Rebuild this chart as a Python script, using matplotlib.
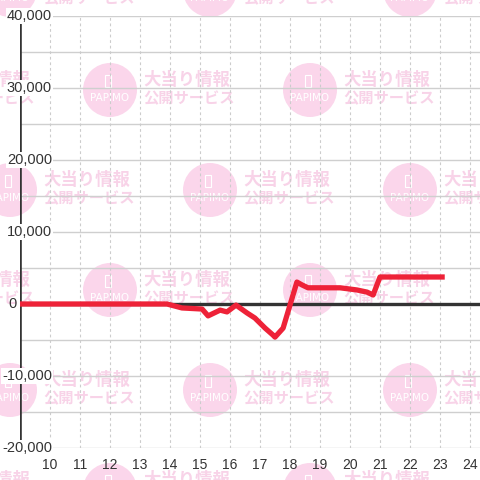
import matplotlib
matplotlib.use("Agg")
import matplotlib.pyplot as plt
from matplotlib.patches import Circle, Rectangle

# hour of day vs. cumulative balance
hours = [9.0, 13.9, 14.4, 15.07, 15.27, 15.67, 15.9, 16.2, 16.57, 16.83, 17.17,
         17.43, 17.5, 17.77, 18.23, 18.4, 18.6, 19.67, 20.23, 20.57, 20.77, 21.0, 23.07]
balance = [0, 0, -550, -700, -1650, -850, -1100, -150, -1250, -1950, -3350,
           -4300, -4600, -3350, 3050, 2650, 2250, 2250, 1950, 1650, 1250, 3750, 3750]

x_ticks = list(range(10, 25))
y_ticks = [-20000, -10000, 0, 10000, 20000, 30000, 40000]
y_labels = ["-20,000", "-10,000", "0", "10,000", "20,000", "30,000", "40,000"]

# watermark tile centres, in pixels from the top-left corner
wm_rows = [-10, 90, 190, 290, 390, 490]

plt.rcParams['font.family'] = ['Liberation Sans', 'DejaVu Sans']

W = 480
fig = plt.figure(figsize=(4.8, 4.8), dpi=100)
fig.patch.set_facecolor("white")


def px(x, y):
    return x / W, 1 - y / W


# watermark, drawn behind the axes
for i, cy in enumerate(wm_rows):
    start = -90 if i % 2 == 1 else 10
    for cx in range(start, 520, 200):
        fig.patches.append(Circle(px(cx, cy), 27 / W, transform=fig.transFigure,
                                  facecolor="#fbd6eb", edgecolor="none", zorder=-3))
        fig.patches.append(Rectangle(px(cx - 5, cy - 3), 6 / W, 12 / W, transform=fig.transFigure,
                                     facecolor="none", edgecolor="white", lw=0.8, zorder=-2))
        fig.text(*px(cx, cy + 8), "PAPIMO", color="white", fontsize=7.5,
                 ha="center", va="center", family="DejaVu Sans", zorder=-2)
        fig.text(*px(cx + 33, cy - 10), "大当り情報", color="#f8d3e8", fontsize=12.5,
                 fontweight="bold", ha="left", va="center",
                 family=["Noto Sans CJK JP", "DejaVu Sans"], zorder=-2)
        fig.text(*px(cx + 33, cy + 8), "公開サービス", color="#f8d3e8", fontsize=11,
                 fontweight="bold", ha="left", va="center",
                 family=["Noto Sans CJK JP", "DejaVu Sans"], zorder=-2)

ax = fig.add_axes([20 / W, 32 / W, 460 / W, 432 / W])
ax.patch.set_alpha(0)
ax.set_xlim(9, 24 + 1 / 3)
ax.set_ylim(-20000, 40000)

for s in ax.spines.values():
    s.set_visible(False)

for v in range(-20000, 40001, 5000):
    ax.axhline(v, color="#cfcfcf", lw=1.0, zorder=1)
for v in x_ticks:
    ax.axvline(v, color="#cccccc", lw=0.8, ls=(0, (2.5, 2.5)), zorder=1)

ax.axvline(9, ymin=0, ymax=(448 - 24) / 432, color="#333333", lw=2.6, zorder=3)
ax.axhline(0, color="#333333", lw=2.4, zorder=3)

ax.plot(hours, balance, color="#ee2238", lw=3.8, solid_joinstyle="round", zorder=4)

ax.set_xticks(x_ticks)
ax.set_xticklabels([str(t) for t in x_ticks])
ax.tick_params(axis="x", length=0, pad=7, labelsize=10, labelcolor="#333333")
ax.set_yticks([])

# y labels sit inside the plot, placed by their right edge in figure pixels
for v, lab in zip(y_ticks, y_labels):
    right_px = 17 if v == 0 else 52
    ax.text((right_px - 20) / 460, v, lab, transform=ax.get_yaxis_transform(),
            fontsize=10.5, color="#333333", ha="right", va="center", zorder=5,
            clip_on=False,
            bbox=dict(facecolor="white" if v != 0 else "none", edgecolor="none", pad=0.5))

fig.savefig("out.png", dpi=100)
